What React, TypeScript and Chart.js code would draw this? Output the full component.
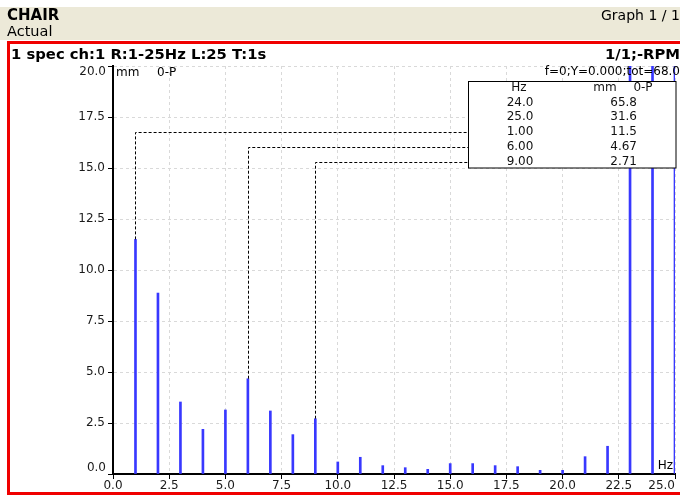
import React, { useEffect, useRef } from 'react';
import { Chart, registerables } from 'chart.js';

Chart.register(...registerables);

// ---- data ----
const hzValues = [1, 2, 3, 4, 5, 6, 7, 8, 9, 10, 11, 12, 13, 14, 15, 16, 17, 18, 19, 20, 21, 22, 23, 24, 25];
const ampValues = [11.5, 8.87, 3.53, 2.19, 3.14, 4.67, 3.09, 1.93, 2.71, 0.59, 0.82, 0.41, 0.31, 0.23, 0.51, 0.51, 0.41, 0.36, 0.18, 0.18, 0.85, 1.36, 25.0, 65.8, 31.6];
const xTickValues = [0, 2.5, 5, 7.5, 10, 12.5, 15, 17.5, 20, 22.5, 25];
const xTickLabels = ['0.0', '2.5', '5.0', '7.5', '10.0', '12.5', '15.0', '17.5', '20.0', '22.5', '25.0'];
const yTickValues = [0, 2.5, 5, 7.5, 10, 12.5, 15, 17.5, 20];
const yTickLabels = ['0.0', '2.5', '5.0', '7.5', '10.0', '12.5', '15.0', '17.5', '20.0'];
const peakHz = [24, 25, 1, 6, 9];
const peakHzLabels = ['24.0', '25.0', '1.00', '6.00', '9.00'];
const peakAmp = [65.8, 31.6, 11.5, 4.67, 2.71];
const peakAmpLabels = ['65.8', '31.6', '11.5', '4.67', '2.71'];

const W = 680;
const H = 495;
const FONT = '"DejaVu Sans", "Liberation Sans", Arial, sans-serif';

const decorPlugin = {
  id: 'decor',
  beforeDraw(chart: any) {
    const ctx = chart.ctx as CanvasRenderingContext2D;
    ctx.save();
    ctx.fillStyle = '#ffffff';
    ctx.fillRect(0, 0, W, H);
    ctx.fillStyle = '#ece9d8';
    ctx.fillRect(0, 7, W, 33);
    ctx.fillStyle = '#000';
    ctx.textBaseline = 'middle';
    ctx.textAlign = 'left';
    ctx.font = `bold 15px ${FONT}`;
    ctx.fillText('CHAIR', 7, 16);
    ctx.font = `14.5px ${FONT}`;
    ctx.fillText('Actual', 7, 32);
    ctx.font = `14px ${FONT}`;
    ctx.fillText('Graph 1 / 1', 601, 16);
    // red frame
    ctx.strokeStyle = '#f00000';
    ctx.lineWidth = 3;
    ctx.strokeRect(8.5, 42.5, 700, 451);
    ctx.fillStyle = '#000';
    ctx.font = `bold 14.8px ${FONT}`;
    ctx.textAlign = 'left';
    ctx.fillText('1 spec ch:1 R:1-25Hz L:25 T:1s', 11, 55);
    ctx.textAlign = 'right';
    ctx.fillText('1/1;-RPM', 680, 55);
    ctx.restore();
  },
  afterDraw(chart: any) {
    const ctx = chart.ctx as CanvasRenderingContext2D;
    const xs = chart.scales.x;
    const ys = chart.scales.y;
    const area = chart.chartArea;
    ctx.save();
    ctx.fillStyle = '#1a1a1a';
    ctx.font = `12px ${FONT}`;
    ctx.textBaseline = 'middle';
    // x tick labels
    xTickValues.forEach((v, i) => {
      const px = xs.getPixelForValue(v);
      const w = ctx.measureText(xTickLabels[i]).width;
      if (px + w / 2 > area.right) {
        ctx.textAlign = 'right';
        ctx.fillText(xTickLabels[i], area.right, area.bottom + 12);
      } else {
        ctx.textAlign = 'center';
        ctx.fillText(xTickLabels[i], px, area.bottom + 12);
      }
    });
    // y tick labels (first/last kept inside the plot height)
    ctx.textAlign = 'right';
    yTickValues.forEach((v, i) => {
      const py = ys.getPixelForValue(v);
      if (i === 0) {
        ctx.textBaseline = 'bottom';
        ctx.fillText(yTickLabels[i], area.left - 7, py);
      } else if (i === yTickValues.length - 1) {
        ctx.textBaseline = 'top';
        ctx.fillText(yTickLabels[i], area.left - 7, py);
      } else {
        ctx.textBaseline = 'middle';
        ctx.fillText(yTickLabels[i], area.left - 8, py);
      }
    });
    ctx.textBaseline = 'middle';
    // axis captions
    ctx.fillStyle = '#000';
    ctx.textAlign = 'left';
    ctx.fillText('mm', area.left + 3, area.top + 7);
    ctx.fillText('0-P', area.left + 44, area.top + 7);
    ctx.textAlign = 'right';
    ctx.fillText('Hz', area.right - 2, area.bottom - 8);
    ctx.fillText('f=0;Y=0.000;tot=68.0', 680, area.top + 6);

    // table geometry
    const tL = 468.5, tT = 81.5, tR = 676, tB = 168;
    const rowY = (i: number) => 102.5 + i * 14.8;

    // markers
    ctx.strokeStyle = '#000';
    ctx.lineWidth = 1;
    ctx.setLineDash([3, 2]);
    peakHz.forEach((h, i) => {
      const v = peakAmp[i];
      if (v > ys.max) return;
      const px = Math.round(xs.getPixelForValue(h)) + 0.5;
      const py = ys.getPixelForValue(v);
      const ry = Math.round(rowY(i)) + 0.5;
      ctx.beginPath();
      ctx.moveTo(px, py);
      ctx.lineTo(px, ry);
      ctx.lineTo(tL, ry);
      ctx.stroke();
    });
    ctx.setLineDash([]);

    // table
    ctx.fillStyle = '#fff';
    ctx.fillRect(tL, tT, tR - tL, tB - tT);
    ctx.strokeRect(tL, tT, tR - tL, tB - tT);
    ctx.fillStyle = '#111';
    ctx.textAlign = 'center';
    ctx.fillText('Hz', 519, 88);
    ctx.fillText('mm', 605, 88);
    ctx.fillText('0-P', 643, 88);
    peakHzLabels.forEach((lab, i) => {
      ctx.textAlign = 'center';
      ctx.fillText(lab, 520, rowY(i));
      ctx.textAlign = 'right';
      ctx.fillText(peakAmpLabels[i], 637, rowY(i));
    });
    ctx.restore();
  },
};

export default function App() {
  const ref = useRef<HTMLCanvasElement | null>(null);
  useEffect(() => {
    if (!ref.current) return;
    const gridCommon = {
      color: '#d9d9d9',
      lineWidth: 1,
      drawTicks: true,
      tickLength: 5,
      tickColor: '#000',
      tickWidth: 1,
      tickBorderDash: [],
    };
    const chart = new Chart(ref.current, {
      type: 'bar',
      data: {
        datasets: [
          {
            data: hzValues.map((h, i) => ({ x: h, y: ampValues[i] })),
            backgroundColor: '#3838ff',
            borderWidth: 0,
            barThickness: 2,
          },
        ],
      },
      options: {
        responsive: false,
        animation: false,
        devicePixelRatio: 1,
        layout: { padding: { left: 0, top: 66, right: 5, bottom: 0 } },
        plugins: {
          legend: { display: false },
          tooltip: { enabled: false },
          title: { display: false },
        },
        scales: {
          x: {
            type: 'linear',
            min: 0,
            max: 25,
            offset: false,
            afterBuildTicks: (s: any) => {
              s.ticks = xTickValues.map((v) => ({ value: v }));
            },
            afterFit: (s: any) => {
              s.height = 21;
            },
            ticks: { display: false },
            grid: { ...gridCommon, offset: false },
            border: { display: true, color: '#000', width: 2, dash: [3, 3] },
          },
          y: {
            type: 'linear',
            min: 0,
            max: 20,
            afterBuildTicks: (s: any) => {
              s.ticks = yTickValues.map((v) => ({ value: v }));
            },
            afterFit: (s: any) => {
              s.width = 113;
            },
            ticks: { display: false },
            grid: { ...gridCommon },
            border: { display: true, color: '#000', width: 2, dash: [3, 3] },
          },
        },
      } as any,
      plugins: [decorPlugin],
    });
    return () => chart.destroy();
  }, []);
  return (
    <div style={{ position: 'fixed', left: 0, top: 0, width: W, height: H, background: '#fff' }}>
      <canvas ref={ref} width={W} height={H} style={{ width: W, height: H, display: 'block' }} />
    </div>
  );
}
